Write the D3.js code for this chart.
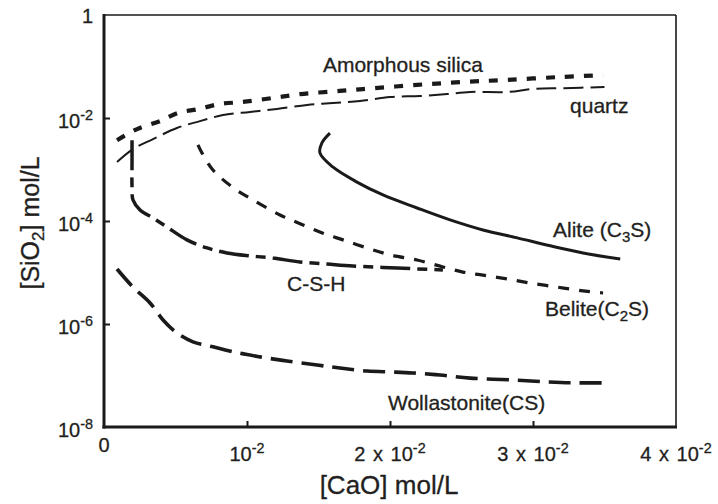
<!DOCTYPE html>
<html>
<head>
<meta charset="utf-8">
<script src="https://cdn.jsdelivr.net/npm/d3@7/dist/d3.min.js"></script>
<style>
  html, body { margin: 0; padding: 0; background: #fff; }
  svg { display: block; }
  text { font-family: "Liberation Sans", Arial, Helvetica, sans-serif; fill: #231f20; stroke: #231f20; stroke-width: 0.3px; }
</style>
</head>
<body>
<svg id="chart" width="718" height="504"></svg>
<script>
// Solubility curves of calcium silicates: [SiO2] vs [CaO] (mol/L)

// Axis ticks
const xTicks = [0, 0.01, 0.02, 0.03, 0.04];
const xTickBase = ["0", "10", "2 x 10", "3 x 10", "4 x 10"];
const xTickExp = ["", "-2", "-2", "-2", "-2"];
const yTicks = [1e-8, 1e-6, 1e-4, 1e-2, 1];
const yTickBase = ["10", "10", "10", "10", "1"];
const yTickExp = ["-8", "-6", "-4", "-2", ""];

// Amorphous silica
const caoAmorphous = [0.00091, 0.00231, 0.00392, 0.00517, 0.00664, 0.00811, 0.00972, 0.01182, 0.01371, 0.0165, 0.0181, 0.0219, 0.0251, 0.0282, 0.0319, 0.0349];
const sio2Amorphous = [3.7e-3, 6.1e-3, 8.7e-3, 1.25e-2, 1.5e-2, 1.87e-2, 2.05e-2, 2.45e-2, 2.9e-2, 3.35e-2, 3.65e-2, 4.4e-2, 5.0e-2, 5.5e-2, 6.25e-2, 6.8e-2];

// Quartz
const caoQuartz = [0.00091, 0.00203, 0.00343, 0.0051, 0.00671, 0.00832, 0.01021, 0.0121, 0.0142, 0.016, 0.0179, 0.02, 0.0221, 0.024, 0.0256, 0.0282, 0.03, 0.0321, 0.035];
const sio2Quartz = [1.4e-3, 2.5e-3, 3.9e-3, 6.4e-3, 8.7e-3, 1.14e-2, 1.31e-2, 1.5e-2, 1.79e-2, 1.96e-2, 2.14e-2, 2.56e-2, 2.67e-2, 2.92e-2, 3.2e-2, 3.2e-2, 3.66e-2, 3.8e-2, 4.0e-2];

// C-S-H
const caoCSH = [0.00196, 0.00196, 0.00196, 0.00203, 0.00252, 0.00343, 0.00441, 0.0058, 0.0072, 0.0086, 0.0102, 0.0118, 0.0137, 0.0156, 0.0174, 0.0205, 0.0237];
const sio2CSH = [3.7e-3, 1.34e-3, 4.6e-4, 2.56e-4, 1.64e-4, 1.14e-4, 7.6e-5, 4.3e-5, 3.0e-5, 2.4e-5, 2.1e-5, 1.91e-5, 1.6e-5, 1.46e-5, 1.34e-5, 1.22e-5, 1.12e-5];

// Belite (C2S)
const caoBelite = [0.00657, 0.00685, 0.00762, 0.00895, 0.01042, 0.01231, 0.01392, 0.01531, 0.01671, 0.01839, 0.02, 0.02189, 0.0237, 0.0251, 0.0265, 0.0282, 0.0298, 0.0317, 0.0335, 0.0349];
const sio2Belite = [3.0e-3, 2.1e-3, 9.8e-4, 4.6e-4, 2.56e-4, 1.31e-4, 8.4e-5, 5.8e-5, 4.3e-5, 3.0e-5, 2.2e-5, 1.75e-5, 1.28e-5, 1.02e-5, 8.9e-6, 7.5e-6, 6.25e-6, 5.2e-6, 4.4e-6, 4.0e-6];

// Alite (C3S)
const caoAlite = [0.0158, 0.01524, 0.0151, 0.016, 0.01769, 0.01951, 0.02189, 0.0242, 0.0265, 0.0289, 0.0312, 0.0335, 0.0361];
const sio2Alite = [5.1e-3, 3.3e-3, 2.1e-3, 1.12e-3, 5.7e-4, 3.2e-4, 1.79e-4, 1.05e-4, 6.7e-5, 4.7e-5, 3.3e-5, 2.4e-5, 1.83e-5];

// Wollastonite (CS)
const caoWoll = [0.00091, 0.00203, 0.00322, 0.00413, 0.0051, 0.00622, 0.00762, 0.00951, 0.01091, 0.0128, 0.0149, 0.0165, 0.0184, 0.0202, 0.0216, 0.0235, 0.0256, 0.0286, 0.031, 0.0328, 0.0348];
const sio2Woll = [1.17e-5, 5.2e-6, 2.56e-6, 1.2e-6, 6.7e-7, 4.5e-7, 3.6e-7, 2.7e-7, 2.3e-7, 1.91e-7, 1.6e-7, 1.4e-7, 1.22e-7, 1.17e-7, 1.12e-7, 1.02e-7, 8.9e-8, 8.2e-8, 7.5e-8, 7.2e-8, 7.2e-8];

// Curve labels: [main text, subscript, tail] and anchor in data space
const labelText = [["Amorphous silica", "", ""], ["quartz", "", ""], ["Alite (C", "3", "S)"], ["C-S-H", "", ""], ["Belite(C", "2", "S)"], ["Wollastonite(CS)", "", ""]];
const labelCaO = [0.01531, 0.03259, 0.0314, 0.0128, 0.03084, 0.01986];
const labelSiO2 = [0.0782, 0.0125, 4.89e-5, 4.38e-6, 1.43e-6, 2.14e-8];

const svg = d3.select("#chart");
const plotLeft = 104, plotRight = 676, plotTop = 15, plotBottom = 427;

const x = d3.scaleLinear().domain([0, 0.04]).range([plotLeft, plotRight]);
const y = d3.scaleLog().domain([1e-8, 1]).range([plotBottom, plotTop]);

const ink = "#1a1a1a";

// Frame: heavier left/bottom axes, light top/right
svg.append("line").attr("x1", plotLeft).attr("x2", plotRight).attr("y1", plotTop).attr("y2", plotTop)
  .attr("stroke", ink).attr("stroke-width", 1.3);
svg.append("line").attr("x1", plotRight).attr("x2", plotRight).attr("y1", plotTop).attr("y2", plotBottom)
  .attr("stroke", ink).attr("stroke-width", 1.6);

// Y axis
const yAxis = svg.append("g").attr("transform", `translate(${plotLeft},0)`)
  .call(d3.axisLeft(y).tickValues(yTicks).tickSize(-6).tickSizeOuter(0).tickFormat(""));
yAxis.select(".domain").attr("stroke", ink).attr("stroke-width", 3).attr("d", `M0,${plotTop - 1}V${plotBottom + 1.5}`);
yAxis.selectAll(".tick line").attr("stroke", ink).attr("stroke-width", 2);
yAxis.selectAll(".tick").filter(d => d === 1 || d === 1e-8).select("line").remove();

// X axis
const xAxis = svg.append("g").attr("transform", `translate(0,${plotBottom})`)
  .call(d3.axisBottom(x).tickValues(xTicks).tickSize(-6).tickSizeOuter(0).tickFormat(""));
xAxis.select(".domain").attr("stroke", ink).attr("stroke-width", 3).attr("d", `M${plotLeft - 1.5},0H${plotRight + 1}`);
xAxis.selectAll(".tick line").attr("stroke", ink).attr("stroke-width", 2);
xAxis.selectAll(".tick").filter(d => d === 0 || d === 0.04).select("line").remove();

// Tick labels with superscript exponents
function tickLabel(g, base, exp, size) {
  g.append("tspan").text(base);
  if (exp) g.append("tspan").attr("font-size", size * 0.72).attr("dy", -size * 0.4).text(exp);
}
const tickFont = 20;
yTicks.forEach((v, i) => {
  const t = svg.append("text").attr("x", plotLeft - 11).attr("y", y(v) + (v === 1 ? 8 : 10))
    .attr("text-anchor", "end").attr("font-size", tickFont);
  tickLabel(t, yTickBase[i], yTickExp[i], tickFont);
});
xTicks.forEach((v, i) => {
  const t = svg.append("text").attr("x", x(v)).attr("y", plotBottom + (v === 0 ? 25 : 34))
    .attr("text-anchor", "middle").attr("font-size", tickFont)
    .attr("word-spacing", 2);
  tickLabel(t, xTickBase[i], xTickExp[i], tickFont);
});

// Axis titles
svg.append("text").attr("x", 389).attr("y", 494).attr("text-anchor", "middle")
  .attr("font-size", 26).text("[CaO] mol/L");
const yt = svg.append("text").attr("transform", "translate(39,223) rotate(-90)")
  .attr("text-anchor", "middle").attr("font-size", 25);
yt.append("tspan").text("[SiO");
yt.append("tspan").attr("font-size", 17).attr("dy", 5).text("2");
yt.append("tspan").attr("dy", -5).text("] mol/L");

// Curves
const line = d3.line().x(d => x(d[0])).y(d => y(d[1])).curve(d3.curveCatmullRom.alpha(0.5));
const curves = [
  { cao: caoQuartz, sio2: sio2Quartz, w: 2, dash: "20,7" },
  { cao: caoAmorphous, sio2: sio2Amorphous, w: 4.2, dash: "9,10" },
  { cao: caoCSH, sio2: sio2CSH, w: 3.5, dash: "30,7,10,7" },
  { cao: caoBelite, sio2: sio2Belite, w: 3.2, dash: "11,10" },
  { cao: caoAlite, sio2: sio2Alite, w: 3, dash: null },
  { cao: caoWoll, sio2: sio2Woll, w: 3.6, dash: "22,9" }
];
curves.forEach(c => {
  svg.append("path")
    .datum(c.cao.map((v, i) => [v, c.sio2[i]]))
    .attr("d", line)
    .attr("fill", "none")
    .attr("stroke", ink)
    .attr("stroke-width", c.w)
    .attr("stroke-dasharray", c.dash)
    .attr("stroke-linejoin", "round");
});

// Curve labels
labelText.forEach((parts, i) => {
  const t = svg.append("text").attr("x", x(labelCaO[i])).attr("y", y(labelSiO2[i])).attr("font-size", 21);
  t.append("tspan").text(parts[0]);
  if (parts[1]) {
    t.append("tspan").attr("font-size", 15).attr("dy", 5).text(parts[1]);
    t.append("tspan").attr("dy", -5).text(parts[2]);
  }
});
</script>
</body>
</html>
